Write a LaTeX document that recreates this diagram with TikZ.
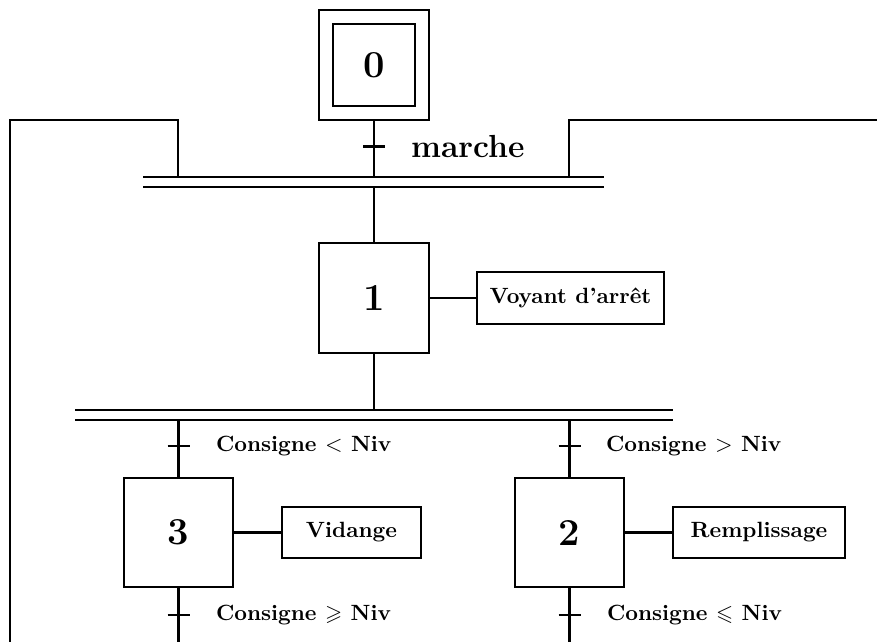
\documentclass[tikz,border=0pt]{standalone}
\usepackage{amssymb}
\begin{document}
\begin{tikzpicture}[x=0.485pt,y=-0.485pt,line width=1pt,
  stepbox/.style={draw,minimum width=53pt,minimum height=53pt,inner sep=0pt,font=\fontsize{18.5}{22}\selectfont\bfseries},
  innerbox/.style={draw,minimum width=39.8pt,minimum height=39.8pt,inner sep=0pt,font=\fontsize{18.5}{22}\selectfont\bfseries},
  actbox/.style={draw,minimum height=25pt,inner sep=0pt,font=\fontsize{10.7}{13}\selectfont\bfseries},
  lbl/.style={anchor=west,inner sep=0pt,font=\fontsize{10.7}{13}\selectfont\bfseries}]
\useasboundingbox (0,0) rectangle (877,642);
% step 0
\node[stepbox] (s0o) at (374,65) {};
\node[innerbox] (s0) at (374,65) {0};
% bar 1
\coordinate (b1l) at (143,177); \coordinate (b1r) at (604,177);
\coordinate (b1lb) at (143,187); \coordinate (b1rb) at (604,187);
\draw (b1l) -- (b1r);
\draw (b1lb) -- (b1rb);
\coordinate (j0) at (374,177);
\coordinate (j0b) at (374,187);
\draw (s0o.south) -- (j0);
\coordinate (t0) at (374,146.5);
\draw ([xshift=-11*0.485pt]t0) -- ([xshift=11*0.485pt]t0);
\node[lbl,font=\fontsize{15.5}{18}\selectfont\bfseries] (lm) at (410,146) {marche};
% loops
\coordinate (jl) at (178,177); \coordinate (cl1) at (178,120); \coordinate (cl2) at (10,120); \coordinate (cl3) at (10,642);
\draw (jl) -- (cl1) -- (cl2) -- (cl3);
\coordinate (jr) at (569,177); \coordinate (cr1) at (569,120); \coordinate (cr2) at (877,120);
\draw (jr) -- (cr1) -- (cr2);
% step 1
\node[stepbox] (s1) at (374,298) {1};
\draw (j0b) -- (s1.north);
\node[actbox,minimum width=90.7pt] (a1) at (570.5,298) {Voyant d’arrêt};
\draw (s1.east) -- (a1.west);
% bar 2
\coordinate (b2l) at (75,410); \coordinate (b2r) at (673,410);
\coordinate (b2lb) at (75,420); \coordinate (b2rb) at (673,420);
\draw (b2l) -- (b2r);
\draw (b2lb) -- (b2rb);
\coordinate (j1) at (374,410);
\draw (s1.south) -- (j1);
% step 3
\node[stepbox] (s3) at (178.5,532.5) {3};
\coordinate (j3) at (178.5,420);
\draw (j3) -- (s3.north);
\coordinate (t3) at (178.5,446);
\draw ([xshift=-11*0.485pt]t3) -- ([xshift=11*0.485pt]t3);
\node[lbl] (l3) at (215,446) {Consigne $<$ Niv};
\node[actbox,minimum width=67.4pt] (a3) at (351.5,532.5) {Vidange};
\draw (s3.east) -- (a3.west);
\coordinate (e3) at (178.5,642);
\draw (s3.south) -- (e3);
\coordinate (t3b) at (178.5,615);
\draw ([xshift=-11*0.485pt]t3b) -- ([xshift=11*0.485pt]t3b);
\node[lbl] (l3b) at (215,615) {Consigne $\geqslant$ Niv};
% step 2
\node[stepbox] (s2) at (569.5,532.5) {2};
\coordinate (j2) at (569.5,420);
\draw (j2) -- (s2.north);
\coordinate (t2) at (569.5,446);
\draw ([xshift=-11*0.485pt]t2) -- ([xshift=11*0.485pt]t2);
\node[lbl] (l2) at (605,446) {Consigne $>$ Niv};
\node[actbox,minimum width=83.4pt] (a2) at (759,532.5) {Remplissage};
\draw (s2.east) -- (a2.west);
\coordinate (e2) at (569.5,642);
\draw (s2.south) -- (e2);
\coordinate (t2b) at (569.5,615);
\draw ([xshift=-11*0.485pt]t2b) -- ([xshift=11*0.485pt]t2b);
\node[lbl] (l2b) at (606,615) {Consigne $\leqslant$ Niv};
\end{tikzpicture}
\end{document}
